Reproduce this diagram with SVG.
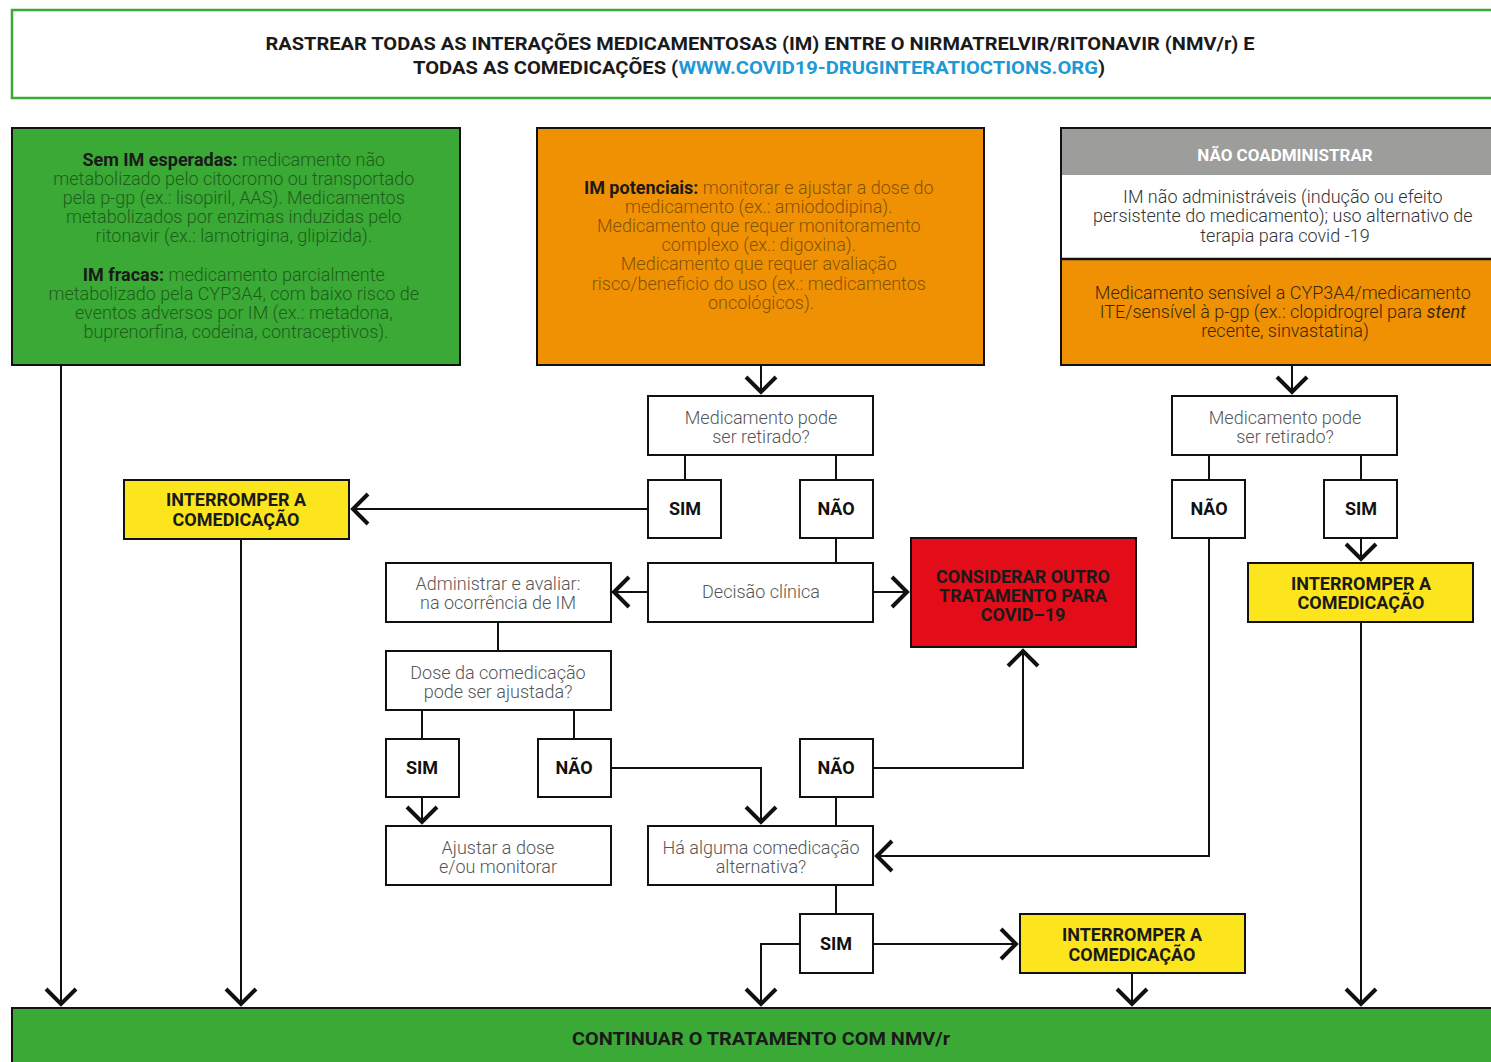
<svg xmlns="http://www.w3.org/2000/svg" width="1491" height="1062" viewBox="0 0 1491 1062">
<style>
.bx{stroke:#111;stroke-width:2}
.wb{fill:#fff;stroke:#111;stroke-width:2}
.t{font-family:Roboto,"Liberation Sans",sans-serif;text-anchor:middle}
.lt{font-weight:300;font-size:18px}
.bd{font-weight:700}
.q{fill:#555}
.gt{fill:#1f5e1b}
.ot{fill:#855300}
.dk{fill:#3a2808}
.lab{font-weight:700;font-size:18px;fill:#111}
.cap{font-weight:700;font-size:18px;fill:#1a1a1a}
.cn{fill:none;stroke:#111;stroke-width:2}
</style>
<defs>
<marker id="ch" markerUnits="userSpaceOnUse" viewBox="-20 -20 40 40" markerWidth="40" markerHeight="40" refX="0" refY="0" orient="auto" overflow="visible">
<path d="M-15,-15 L0,0 L-15,15" fill="none" stroke="#111" stroke-width="4"/>
</marker>
</defs>
<rect width="1491" height="1062" fill="#fff"/>

<g id="header">
<rect x="12" y="10" width="1490" height="88" fill="#fff" stroke="#3aa935" stroke-width="2.5"/>
<text class="t bd" font-size="19" x="760" y="50" fill="#1a1a1a" textLength="989" lengthAdjust="spacingAndGlyphs">RASTREAR TODAS AS INTERAÇÕES MEDICAMENTOSAS (IM) ENTRE O NIRMATRELVIR/RITONAVIR (NMV/r) E</text>
<text class="t bd" font-size="19" x="759" y="74" fill="#1a1a1a" textLength="692" lengthAdjust="spacingAndGlyphs">TODAS AS COMEDICAÇÕES (<tspan fill="#1d9ad6">WWW.COVID19-DRUGINTERATIOCTIONS.ORG</tspan>)</text>
</g>

<g id="sem-im">
<rect class="bx" x="12" y="128" width="448" height="237" fill="#3aa935"/>
<text class="t lt gt">
<tspan x="236" y="166"><tspan class="bd" fill="#1a1a1a">Sem IM esperadas:</tspan> medicamento não</tspan>
<tspan x="236" y="185">metabolizado pelo citocromo  ou transportado</tspan>
<tspan x="236" y="204">pela p-gp (ex.: lisopiril, AAS). Medicamentos</tspan>
<tspan x="236" y="223">metabolizados por enzimas induzidas pelo</tspan>
<tspan x="236" y="242">ritonavir (ex.: lamotrigina, glipizida).</tspan>
<tspan x="236" y="281"><tspan class="bd" fill="#1a1a1a">IM fracas:</tspan> medicamento parcialmente</tspan>
<tspan x="236" y="300">metabolizado pela CYP3A4, com baixo risco de</tspan>
<tspan x="236" y="319">eventos adversos por IM (ex.: metadona,</tspan>
<tspan x="236" y="338">buprenorfina, codeína, contraceptivos).</tspan>
</text>
</g>

<g id="im-potenciais">
<rect class="bx" x="537" y="128" width="447" height="237" fill="#f09104"/>
<text class="t lt ot">
<tspan x="761" y="194"><tspan class="bd" fill="#1a1a1a">IM potenciais:</tspan> monitorar e ajustar a dose do</tspan>
<tspan x="761" y="213">medicamento (ex.: amiododipina).</tspan>
<tspan x="761" y="232">Medicamento que requer monitoramento</tspan>
<tspan x="761" y="251">complexo (ex.: digoxina).</tspan>
<tspan x="761" y="270">Medicamento que requer avaliação</tspan>
<tspan x="761" y="290">risco/beneficio do uso (ex.: medicamentos</tspan>
<tspan x="761" y="309">oncológicos).</tspan>
</text>
</g>

<g id="nao-coadministrar">
<rect class="bx" x="1061" y="128" width="440" height="237" fill="#fff"/>
<rect x="1062" y="129" width="440" height="46" fill="#9d9d9c"/>
<rect x="1062" y="259" width="440" height="105" fill="#f09104"/>
<line x1="1061" y1="259" x2="1500" y2="259" stroke="#111" stroke-width="2.5"/>
<text class="t bd" font-size="17" x="1285" y="161" fill="#fff">NÃO COADMINISTRAR</text>
<text class="t lt" fill="#333">
<tspan x="1285" y="203">IM não administráveis (indução ou efeito</tspan>
<tspan x="1285" y="222">persistente do medicamento); uso alternativo de</tspan>
<tspan x="1285" y="242">terapia para covid -19</tspan>
</text>
<text class="t lt dk">
<tspan x="1285" y="299">Medicamento sensível a CYP3A4/medicamento</tspan>
<tspan x="1285" y="318">ITE/sensível à p-gp (ex.: clopidrogrel para <tspan font-style="italic" font-weight="400">stent</tspan></tspan>
<tspan x="1285" y="337">recente, sinvastatina)</tspan>
</text>
</g>

<g id="q1">
<rect class="wb" x="648" y="396" width="225" height="59"/>
<text class="t lt q"><tspan x="761" y="424">Medicamento pode</tspan><tspan x="761" y="443">ser retirado?</tspan></text>
</g>
<g id="q1-sim"><rect class="wb" x="648" y="480" width="73" height="58"/><text class="t lab" x="685" y="515">SIM</text></g>
<g id="q1-nao"><rect class="wb" x="800" y="480" width="73" height="58"/><text class="t lab" x="836" y="515">NÃO</text></g>

<g id="stop1">
<rect class="bx" x="124" y="480" width="225" height="59" fill="#fce51d"/>
<text class="t cap"><tspan x="236" y="506">INTERROMPER A</tspan><tspan x="236" y="526">COMEDICAÇÃO</tspan></text>
</g>

<g id="decisao">
<rect class="wb" x="648" y="563" width="225" height="59"/>
<text class="t lt q" x="761" y="598">Decisão clínica</text>
</g>

<g id="administrar">
<rect class="wb" x="386" y="563" width="225" height="59"/>
<text class="t lt q"><tspan x="498" y="590">Administrar e avaliar:</tspan><tspan x="498" y="609">na ocorrência de IM</tspan></text>
</g>

<g id="considerar">
<rect class="bx" x="911" y="538" width="225" height="109" fill="#e20d18"/>
<text class="t cap"><tspan x="1023" y="583">CONSIDERAR OUTRO</tspan><tspan x="1023" y="602">TRATAMENTO PARA</tspan><tspan x="1023" y="621">COVID–19</tspan></text>
</g>

<g id="dose">
<rect class="wb" x="386" y="651" width="225" height="59"/>
<text class="t lt q"><tspan x="498" y="679">Dose da comedicação</tspan><tspan x="498" y="698">pode ser ajustada?</tspan></text>
</g>
<g id="dose-sim"><rect class="wb" x="386" y="739" width="73" height="58"/><text class="t lab" x="422" y="774">SIM</text></g>
<g id="dose-nao"><rect class="wb" x="538" y="739" width="73" height="58"/><text class="t lab" x="574" y="774">NÃO</text></g>

<g id="ajustar">
<rect class="wb" x="386" y="826" width="225" height="59"/>
<text class="t lt q"><tspan x="498" y="854">Ajustar a dose</tspan><tspan x="498" y="873">e/ou monitorar</tspan></text>
</g>

<g id="alt-nao"><rect class="wb" x="800" y="739" width="73" height="58"/><text class="t lab" x="836" y="774">NÃO</text></g>

<g id="alternativa">
<rect class="wb" x="648" y="826" width="225" height="59"/>
<text class="t lt q"><tspan x="761" y="854">Há alguma comedicação</tspan><tspan x="761" y="873">alternativa?</tspan></text>
</g>

<g id="alt-sim"><rect class="wb" x="800" y="914" width="73" height="59"/><text class="t lab" x="836" y="950">SIM</text></g>

<g id="stop3">
<rect class="bx" x="1020" y="914" width="225" height="59" fill="#fce51d"/>
<text class="t cap"><tspan x="1132" y="941">INTERROMPER A</tspan><tspan x="1132" y="961">COMEDICAÇÃO</tspan></text>
</g>

<g id="q2">
<rect class="wb" x="1172" y="396" width="225" height="59"/>
<text class="t lt q"><tspan x="1285" y="424">Medicamento pode</tspan><tspan x="1285" y="443">ser retirado?</tspan></text>
</g>
<g id="q2-nao"><rect class="wb" x="1172" y="480" width="73" height="58"/><text class="t lab" x="1209" y="515">NÃO</text></g>
<g id="q2-sim"><rect class="wb" x="1324" y="480" width="73" height="58"/><text class="t lab" x="1361" y="515">SIM</text></g>

<g id="stop2">
<rect class="bx" x="1248" y="563" width="225" height="59" fill="#fce51d"/>
<text class="t cap"><tspan x="1361" y="590">INTERROMPER A</tspan><tspan x="1361" y="609">COMEDICAÇÃO</tspan></text>
</g>

<g id="continuar">
<rect class="bx" x="12" y="1008" width="1490" height="60" fill="#3aa935"/>
<text class="t cap" x="761" y="1045" textLength="378" lengthAdjust="spacingAndGlyphs">CONTINUAR O TRATAMENTO COM NMV/r</text>
</g>

<g id="connectors">
<path class="cn" d="M761,366 V392" marker-end="url(#ch)"/>
<path class="cn" d="M1292,366 V392" marker-end="url(#ch)"/>
<path class="cn" d="M685,455 V480"/>
<path class="cn" d="M836,455 V480"/>
<path class="cn" d="M648,509 H353" marker-end="url(#ch)"/>
<path class="cn" d="M836,538 V563"/>
<path class="cn" d="M648,592 H614" marker-end="url(#ch)"/>
<path class="cn" d="M873,592 H907" marker-end="url(#ch)"/>
<path class="cn" d="M498,622 V651"/>
<path class="cn" d="M422,710 V739"/>
<path class="cn" d="M574,710 V739"/>
<path class="cn" d="M422,797 V822" marker-end="url(#ch)"/>
<path class="cn" d="M611,768 H761 V822" marker-end="url(#ch)"/>
<path class="cn" d="M873,768 H1023 V651" marker-end="url(#ch)"/>
<path class="cn" d="M836,797 V826"/>
<path class="cn" d="M836,885 V914"/>
<path class="cn" d="M873,944 H1016" marker-end="url(#ch)"/>
<path class="cn" d="M800,944 H761 V1004" marker-end="url(#ch)"/>
<path class="cn" d="M1132,973 V1004" marker-end="url(#ch)"/>
<path class="cn" d="M1209,455 V480"/>
<path class="cn" d="M1361,455 V480"/>
<path class="cn" d="M1361,538 V559" marker-end="url(#ch)"/>
<path class="cn" d="M1209,538 V856 H877" marker-end="url(#ch)"/>
<path class="cn" d="M1361,622 V1004" marker-end="url(#ch)"/>
<path class="cn" d="M61,365 V1004" marker-end="url(#ch)"/>
<path class="cn" d="M241,539 V1004" marker-end="url(#ch)"/>
</g>
</svg>
